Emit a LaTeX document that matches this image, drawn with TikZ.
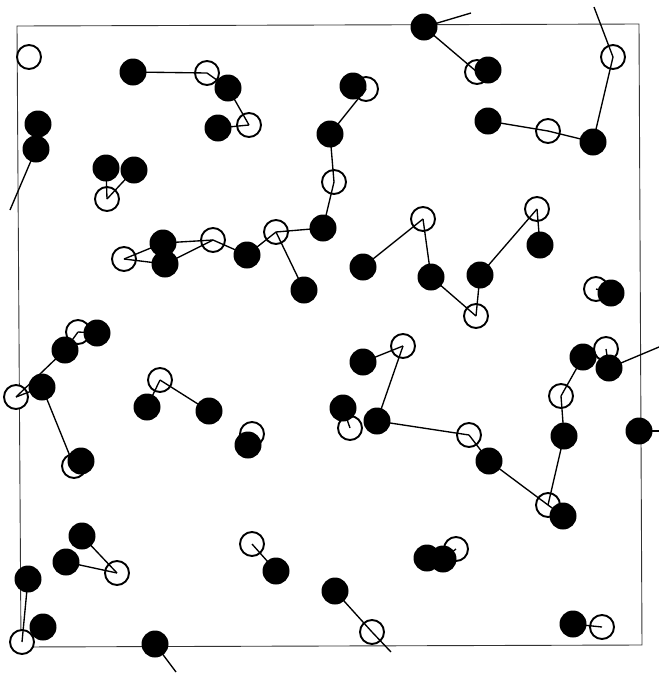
\documentclass[tikz,border=0pt]{standalone}
\begin{document}
\begin{tikzpicture}[x=1pt,y=-1pt,
  bk/.style={circle,fill=black,draw=none,minimum size=27pt,inner sep=0pt},
  wt/.style={circle,fill=white,draw=black,line width=1.9pt,minimum size=24pt,inner sep=0pt},
  bond/.style={line width=1.35pt},
  frame/.style={line width=0.9pt,draw=black!80}]
\useasboundingbox (0,0) rectangle (659,673);
% whites
\foreach \n/\x/\y in {w1/29/57,w2/207/73,w3/249/125,w4/107/199,w5/477/72,w6/366/89,w7/334/182,w8/276/232,w9/213/240,w10/124/259,w11/613/57,w12/548/131,w13/423/219,w14/476/316,w15/537/209,w16/596/289,w17/78/332,w18/16/397,w19/74/466,w20/160/380,w21/252/434,w22/403/346,w23/350/428,w24/469/435,w25/606/349,w26/561/396,w27/548/505,w28/117/573,w29/22/642,w30/252/544,w31/372/632,w32/456/549,w33/602/627}
  \coordinate (\n) at (\x,\y);
% blacks
\foreach \n/\x/\y in {b1/133/72,b2/228/88,b3/218/128,b4/38/124,b5/36/149,b6/106/168,b7/134/170,b8/424/27,b9/488/70,b10/353/86,b11/330/134,b12/323/228,b13/247/255,b14/304/290,b15/163/243,b16/165/264,b17/593/142,b18/488/121,b19/363/267,b20/431/277,b21/480/275,b22/540/245,b23/611/293,b24/97/333,b25/65/350,b26/42/387,b27/81/461,b28/147/407,b29/209/411,b30/248/445,b31/363/362,b32/343/408,b33/377/421,b34/489/461,b35/563/516,b36/564/436,b37/583/357,b38/609/368,b39/639/431,b40/82/536,b41/66/562,b42/28/579,b43/43/627,b44/155/644,b45/276/571,b46/335/591,b47/427/558,b48/443/559,b49/573/624}
  \coordinate (\n) at (\x,\y);
% free ends
\coordinate (f1) at (10,210);
\coordinate (f2) at (471,13);
\coordinate (f3) at (594,7);
\coordinate (f4) at (659,347);
\coordinate (f5) at (659,431);
\coordinate (f6) at (176,672);
\coordinate (f7) at (391,652);
% frame (slightly skewed, as scanned)
\coordinate (c1) at (17,26);
\coordinate (c2) at (639,24);
\coordinate (c3) at (642,645);
\coordinate (c4) at (21,647);
\draw[frame] (c1) -- (c2) -- (c3) -- (c4) -- cycle;
% white circles
\foreach \n in {w1,w2,w3,w4,w5,w6,w7,w8,w9,w10,w11,w12,w13,w14,w15,w16,w17,w18,w19,w20,w21,w22,w23,w24,w25,w26,w27,w28,w29,w30,w31,w32,w33}
  \node[wt] (n\n) at (\n) {};
% bonds
\foreach \a/\b in {b1/w2,w2/b2,b2/w3,w3/b3,b5/f1,w4/b6,w4/b7,b8/f2,b8/w5,w5/b9,w6/b10,w6/b11,b11/w7,w7/b12,b12/w8,w8/b13,w8/b14,b13/w9,w9/b15,w9/b16,w10/b15,w10/b16,w11/f3,w11/b17,b17/w12,w12/b18,b19/w13,w13/b20,b20/w14,w14/b21,b21/w15,w15/b22,w16/b23,w17/b24,w17/b25,b25/w18,w18/b26,b26/w19,w19/b27,w20/b28,w20/b29,w21/b30,b31/w22,w22/b33,b33/w24,w23/b32,w24/b34,b34/w27,w27/b35,w27/b36,b36/w26,w26/b37,w25/b38,b38/f4,b39/f5,b40/w28,b41/w28,b42/w29,b44/f6,w30/b45,b46/w31,w31/f7,w32/b48,w33/b49}
  \draw[bond] (\a) -- (\b);
% black circles
\foreach \n in {b1,b2,b3,b4,b5,b6,b7,b8,b9,b10,b11,b12,b13,b14,b15,b16,b17,b18,b19,b20,b21,b22,b23,b24,b25,b26,b27,b28,b29,b30,b31,b32,b33,b34,b35,b36,b37,b38,b39,b40,b41,b42,b43,b44,b45,b46,b47,b48,b49}
  \node[bk] (n\n) at (\n) {};
\end{tikzpicture}
\end{document}
